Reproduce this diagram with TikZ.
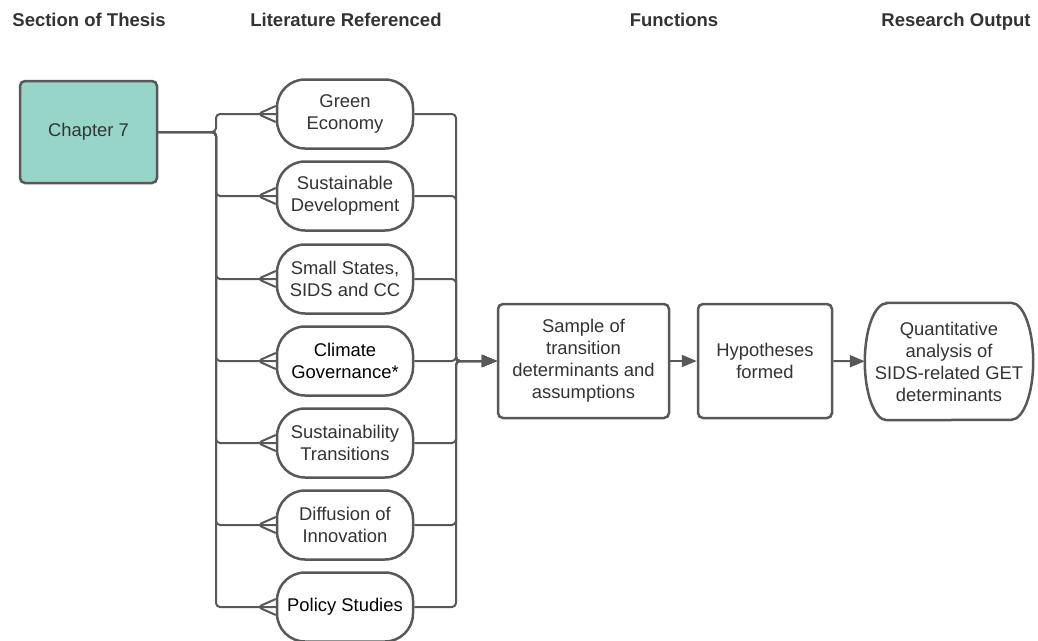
\documentclass[tikz,border=0pt]{standalone}
\usepackage{fontspec}
\setmainfont{Liberation Sans}
\usetikzlibrary{arrows.meta,shapes.misc}

\definecolor{tealbox}{HTML}{98D5C9}
\definecolor{edge}{HTML}{585858}
\definecolor{ink}{HTML}{333333}

\tikzset{
  txt/.style={font=\fontsize{18.4}{22}\selectfont, text=ink, align=center},
  head/.style={font=\fontsize{18.5}{22}\selectfont\bfseries, text=ink, anchor=base},
  litnode/.style={txt, draw=edge, line width=2.5pt, fill=white, rounded corners=28pt,
    minimum width=136pt, minimum height=69pt, inner sep=0pt},
  funbox/.style={txt, draw=edge, line width=2.5pt, fill=white, rounded corners=5pt,
    minimum height=114pt, inner sep=0pt},
  link/.style={draw=edge, line width=2pt, rounded corners=4pt},
  arr/.style={link, -{Triangle[length=15pt,width=12pt]}}
}

\begin{document}
\begin{tikzpicture}[x=1pt,y=-1pt]
\useasboundingbox (0,0) rectangle (1038,640);

% column headings
\node[head] (hsec) at (89,26) {Section of Thesis};
\node[head] (hlit) at (346,26) {Literature Referenced};
\node[head] (hfun) at (674,26) {Functions};
\node[head] (hout) at (956,26) {Research Output};

% section of thesis
\node[txt, draw=edge, line width=2.5pt, fill=tealbox, rounded corners=5pt,
  minimum width=137pt, minimum height=102pt] (ch7) at (88.5,132) {Chapter 7};

% literature
\foreach \y/\txt [count=\i from 0] in {114/{Green\\Economy}, 196/{Sustainable\\Development},
    279/{Small States,\\SIDS and CC}, 361/{\color{black}Climate\\\color{black}Governance*},
    443/{Sustainability\\Transitions}, 525/{Diffusion of\\Innovation}, 607/{\color{black}Policy Studies}}
  \node[litnode] (lit\i) at (345,\y) {\txt};

% functions and output
\node[funbox, minimum width=171pt] (sample) at (583.5,361) {Sample of\\transition\\determinants and\\assumptions};
\node[funbox, minimum width=134pt] (hyp) at (765,361) {Hypotheses\\formed};
\node[txt, minimum width=168pt, minimum height=117pt, inner sep=0pt] (quant) at (949,361.5)
  {Quantitative\\analysis of\\SIDS-related GET\\determinants};
% output outline, elliptic ends
\draw[edge, line width=2.5pt] ([xshift=22pt]quant.north west) -- ([xshift=-22pt]quant.north east)
  arc[start angle=90, end angle=-90, x radius=22pt, y radius=58.5pt]
  -- ([xshift=22pt]quant.south west)
  arc[start angle=270, end angle=90, x radius=22pt, y radius=58.5pt] -- cycle;

% connectors
\coordinate (busL) at (216,0);
\coordinate (busR) at (456,0);
\foreach \i in {0,...,6} {
  \draw[link] (ch7.east) -| (busL |- lit\i.west) -- ([xshift=-18pt]lit\i.west) coordinate (foot\i) -- (lit\i.west);
  \draw[link] ([yshift=8pt]lit\i.west) -- (foot\i) -- ([yshift=-8pt]lit\i.west);
  \draw[arr] (lit\i.east) -| (busR |- sample.west) -- (sample.west);
}
\draw[arr] (sample) -- (hyp);
\draw[arr] (hyp) -- (quant);
\end{tikzpicture}
\end{document}
